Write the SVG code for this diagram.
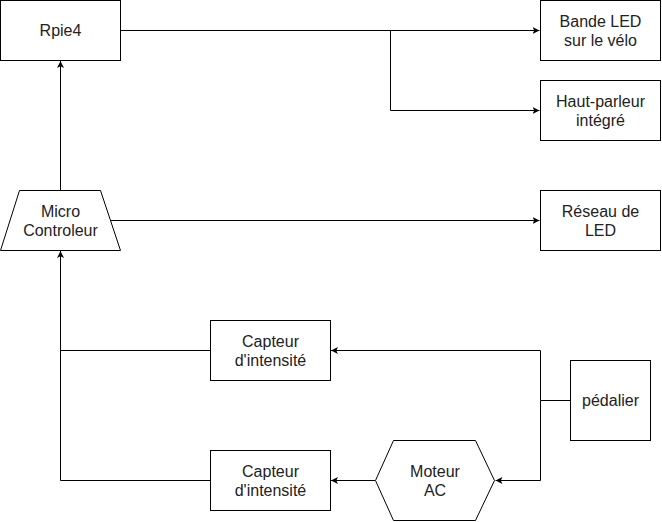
<svg xmlns="http://www.w3.org/2000/svg" width="662" height="522" viewBox="0 0 662 522">
<defs>
<marker id="arr" viewBox="0 0 10 10" refX="10" refY="5" markerWidth="7" markerHeight="7" markerUnits="userSpaceOnUse" orient="auto">
<path d="M0,0 L10,5 L0,10 L2.5,5 Z" fill="#000"/>
</marker>
<style>
.n{fill:#fff;stroke:#000;stroke-width:1}
.t{font-family:"Liberation Sans",Arial,sans-serif;font-size:16px;fill:#222;text-anchor:middle}
.c{fill:none;stroke:#000;stroke-width:1}
</style>
</defs>
<rect width="662" height="522" fill="#fff"/>
<g id="connectors">
<path class="c" d="M120.5,30.5 H539.5" marker-end="url(#arr)"/>
<path class="c" d="M390.5,30.5 V110.5 H539.5" marker-end="url(#arr)"/>
<path class="c" d="M60.5,190 V61" marker-end="url(#arr)"/>
<path class="c" d="M110,220.5 H539.5" marker-end="url(#arr)"/>
<path class="c" d="M210,350.5 H60.5"/>
<path class="c" d="M210,480.5 H60.5 V251" marker-end="url(#arr)"/>
<path class="c" d="M570,400.5 H540.5 V350.5 H331" marker-end="url(#arr)"/>
<path class="c" d="M540.5,400.5 V480.5 H495.5" marker-end="url(#arr)"/>
<path class="c" d="M375,480.5 H331" marker-end="url(#arr)"/>
</g>
<g id="rpie4">
<rect class="n" x="0.5" y="0.5" width="120" height="60"/>
<text class="t" x="60.5" y="36">Rpie4</text>
</g>
<g id="bande-led">
<rect class="n" x="540.5" y="0.5" width="120" height="60"/>
<text class="t" x="600.5" y="26.5">Bande LED</text>
<text class="t" x="600.5" y="45.7">sur le vélo</text>
</g>
<g id="haut-parleur">
<rect class="n" x="540.5" y="80.5" width="120" height="60"/>
<text class="t" x="600.5" y="106.5">Haut-parleur</text>
<text class="t" x="600.5" y="125.7">intégré</text>
</g>
<g id="micro">
<path class="n" d="M19.5,190.5 H100.5 L120.5,250.5 H0.5 Z"/>
<text class="t" x="60.5" y="216.5">Micro</text>
<text class="t" x="60.5" y="235.7">Controleur</text>
</g>
<g id="reseau-led">
<rect class="n" x="540.5" y="190.5" width="120" height="60"/>
<text class="t" x="600.5" y="216.5">Réseau de</text>
<text class="t" x="600.5" y="235.7">LED</text>
</g>
<g id="capteur1">
<rect class="n" x="210.5" y="320.5" width="120" height="60"/>
<text class="t" x="270.5" y="346.5">Capteur</text>
<text class="t" x="270.5" y="365.7">d'intensité</text>
</g>
<g id="capteur2">
<rect class="n" x="210.5" y="450.5" width="120" height="60"/>
<text class="t" x="270.5" y="476.5">Capteur</text>
<text class="t" x="270.5" y="495.7">d'intensité</text>
</g>
<g id="pedalier">
<rect class="n" x="570.5" y="360.5" width="80" height="80"/>
<text class="t" x="610.5" y="406">pédalier</text>
</g>
<g id="moteur">
<path class="n" d="M375.5,480.5 L393.5,440.5 H475.5 L494.5,480.5 L475.5,520.5 H393.5 Z"/>
<text class="t" x="435" y="476.5">Moteur</text>
<text class="t" x="435" y="495.7">AC</text>
</g>
</svg>
